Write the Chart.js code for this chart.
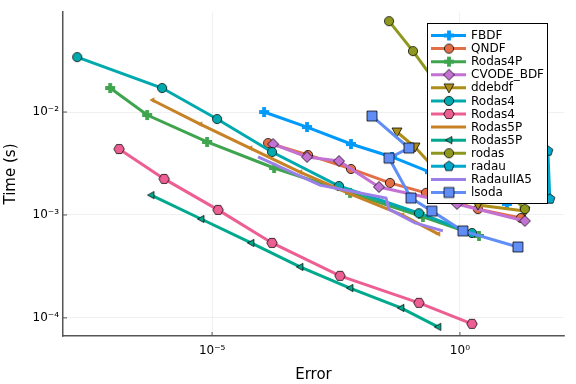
<!DOCTYPE html>
<html>
<head>
<meta charset="utf-8">
<script src="https://cdn.jsdelivr.net/npm/chart.js@4"></script>
<style>
  html, body { margin: 0; padding: 0; background: #fff; }
  #wrap { width: 576px; height: 384px; }
</style>
</head>
<body>
<div id="wrap"><canvas id="chart" width="576" height="384"></canvas></div>
<script>
// tick positions
const xTicks = [1e-5, 1];
const yTicks = [1e-4, 1e-3, 1e-2];

const names = ['FBDF', 'QNDF', 'Rodas4P', 'CVODE_BDF', 'ddebdf', 'Rodas4', 'Rodas4',
               'Rodas5P', 'Rodas5P', 'rodas', 'radau', 'RadauIIA5', 'lsoda'];

// error / time per solver
const fbdfErr = [1.12e-4, 8.22e-4, 6.34e-3, 4.26e-2, 0.248, 8.87];
const fbdfTime = [1.0e-2, 7.15e-3, 4.89e-3, 3.66e-3, 2.61e-3, 1.28e-3];
const qndfErr = [1.35e-4, 8.61e-4, 6.34e-3, 3.88e-2, 0.206, 2.31, 17.0];
const qndfTime = [5.0e-3, 3.83e-3, 2.80e-3, 2.05e-3, 1.64e-3, 1.14e-3, 9.35e-4];
const rodas4pErr = [8.79e-8, 4.90e-7, 7.93e-6, 1.78e-4, 6.06e-3, 0.179, 2.42];
const rodas4pTime = [1.71e-2, 9.35e-3, 5.12e-3, 2.86e-3, 1.64e-3, 9.57e-4, 6.25e-4];
const cvodeErr = [1.70e-4, 8.22e-4, 3.63e-3, 2.33e-2, 0.871, 20.4];
const cvodeTime = [4.89e-3, 3.66e-3, 3.34e-3, 1.87e-3, 1.28e-3, 8.75e-4];
const ddebdfErr = [5.37e-2, 0.124, 0.547, 2.31, 20.4];
const ddebdfTime = [6.40e-3, 4.57e-3, 2.09e-3, 1.25e-3, 1.09e-3];
const rodas4aErr = [1.90e-8, 9.8e-7, 1.26e-5, 1.62e-4, 3.63e-3, 0.149, 1.75];
const rodas4aTime = [3.42e-2, 1.71e-2, 8.55e-3, 4.09e-3, 1.91e-3, 1.04e-3, 6.68e-4];
const rodas4bErr = [1.33e-7, 1.08e-6, 1.32e-5, 1.62e-4, 3.81e-3, 0.149, 1.75];
const rodas4bTime = [4.37e-3, 2.24e-3, 1.12e-3, 5.35e-4, 2.56e-4, 1.40e-4, 8.75e-5];
const rodas5paErr = [6.17e-7, 5.73e-6, 5.83e-5, 5.95e-4, 6.06e-3, 6.77e-2, 0.360];
const rodas5paTime = [1.31e-2, 7.64e-3, 4.47e-3, 2.61e-3, 1.60e-3, 1.0e-3, 6.55e-4];
const rodas5pbErr = [5.89e-7, 6.0e-6, 6.11e-5, 5.95e-4, 6.06e-3, 6.46e-2, 0.360];
const rodas5pbTime = [1.56e-3, 9.14e-4, 5.35e-4, 3.13e-4, 1.95e-4, 1.25e-4, 8.18e-5];
const rodasErr = [3.71e-2, 0.113, 0.499, 2.53, 8.07, 20.4];
const rodasTime = [7.64e-2, 3.91e-2, 1.46e-2, 4.28e-3, 1.75e-3, 1.14e-3];
const radauErr = [16.2, 59.5, 65.2];
const radauTime = [3.2e-2, 4.18e-3, 1.43e-3];
const radauIIA5Err = [8.45e-5, 1.50e-3, 3.22e-2, 3.71e-2, 0.124, 0.454];
const radauIIA5Time = [3.66e-3, 1.95e-3, 1.46e-3, 1.14e-3, 8.36e-4, 7.0e-4];
const lsodaErr = [1.68e-2, 9.38e-2, 3.71e-2, 0.103, 0.272, 1.15, 14.8];
const lsodaTime = [9.14e-3, 4.47e-3, 3.57e-3, 1.46e-3, 1.09e-3, 7.0e-4, 4.89e-4];

const errs = [fbdfErr, qndfErr, rodas4pErr, cvodeErr, ddebdfErr, rodas4aErr, rodas4bErr,
              rodas5paErr, rodas5pbErr, rodasErr, radauErr, radauIIA5Err, lsodaErr];
const times = [fbdfTime, qndfTime, rodas4pTime, cvodeTime, ddebdfTime, rodas4aTime, rodas4bTime,
               rodas5paTime, rodas5pbTime, rodasTime, radauTime, radauIIA5Time, lsodaTime];

// styles
const colors = ['#009AFA', '#E36F47', '#3EA44E', '#C371D2', '#AC8E18', '#00A9AD', '#ED5E93',
                '#C68225', '#00A98D', '#8E971E', '#00A8CB', '#9B7FE9', '#618DF6'];
const shapes = ['cross', 'circle', 'cross', 'diamond', 'dtri', 'circle', 'hex',
                'ltriS', 'ltri', 'circle', 'pent', 'none', 'square'];

function poly(g, m, r, n, start) {
    for (let k = 0; k < n; k++) {
        let a = start + k * 2 * Math.PI / n;
        let px = m + r * Math.cos(a), py = m + r * Math.sin(a);
        if (k === 0) g.moveTo(px, py); else g.lineTo(px, py);
    }
}

function makeMarker(shape, color) {
    if (shape === 'none') return null;
    let r = 5;
    if (shape === 'circle') r = 4.6;
    if (shape === 'ltri') r = 3.6;
    if (shape === 'ltriS') r = 2.8;
    const s = Math.ceil(r * 2 + 4);
    const c = document.createElement('canvas');
    c.width = s; c.height = s;
    const g = c.getContext('2d');
    const m = s / 2;
    g.beginPath();
    if (shape === 'circle') g.arc(m, m, r, 0, Math.PI * 2);
    else if (shape === 'square') g.rect(m - r, m - r, 2 * r, 2 * r);
    else if (shape === 'diamond') { g.moveTo(m, m - r * 1.1); g.lineTo(m + r * 1.1, m); g.lineTo(m, m + r * 1.1); g.lineTo(m - r * 1.1, m); }
    else if (shape === 'dtri') { g.moveTo(m - r, m - r * 0.8); g.lineTo(m + r, m - r * 0.8); g.lineTo(m, m + r); }
    else if (shape === 'ltri' || shape === 'ltriS') { g.moveTo(m - r, m); g.lineTo(m + r * 0.8, m - r); g.lineTo(m + r * 0.8, m + r); }
    else if (shape === 'pent') poly(g, m, r * 1.05, 5, -Math.PI / 2);
    else if (shape === 'hex') poly(g, m, r * 1.05, 6, 0);
    else if (shape === 'cross') {
        const w = r * 0.38;
        g.moveTo(m - w, m - r); g.lineTo(m + w, m - r); g.lineTo(m + w, m - w); g.lineTo(m + r, m - w);
        g.lineTo(m + r, m + w); g.lineTo(m + w, m + w); g.lineTo(m + w, m + r); g.lineTo(m - w, m + r);
        g.lineTo(m - w, m + w); g.lineTo(m - r, m + w); g.lineTo(m - r, m - w); g.lineTo(m - w, m - w);
    }
    g.closePath();
    g.fillStyle = color;
    g.fill();
    if (shape !== 'cross' && shape !== 'ltriS') {
        g.lineWidth = 0.9;
        g.strokeStyle = 'rgba(0,0,0,0.85)';
        g.stroke();
    }
    return c;
}

const markers = shapes.map((s, i) => makeMarker(s, colors[i]));

const sup = { '-': '\u207B', '0': '\u2070', '1': '\u00B9', '2': '\u00B2', '3': '\u00B3', '4': '\u2074',
              '5': '\u2075', '6': '\u2076', '7': '\u2077', '8': '\u2078', '9': '\u2079' };
function powLabel(v) {
    let e = String(Math.round(Math.log10(v)));
    return '10' + e.split('').map(ch => sup[ch]).join('');
}

let datasets = names.map(function (name, i) {
    return {
        label: name,
        data: errs[i].map((e, j) => ({ x: e, y: times[i][j] })),
        showLine: true,
        borderColor: colors[i],
        backgroundColor: colors[i],
        borderWidth: 3,
        pointStyle: markers[i] || 'circle',
        pointRadius: markers[i] ? 4 : 0,
        pointHoverRadius: markers[i] ? 4 : 0,
        order: names.length - i
    };
});

// legend drawn inside the plot + inward ticks
const extras = {
    id: 'extras',
    beforeDatasetsDraw(chart) {
        const ctx = chart.ctx;
        const a = chart.chartArea;
        ctx.save();
        ctx.strokeStyle = '#555';
        ctx.lineWidth = 1;
        chart.scales.x.ticks.forEach(t => {
            let px = chart.scales.x.getPixelForValue(t.value);
            ctx.beginPath(); ctx.moveTo(px, a.bottom); ctx.lineTo(px, a.bottom - 4); ctx.stroke();
        });
        chart.scales.y.ticks.forEach(t => {
            let py = chart.scales.y.getPixelForValue(t.value);
            ctx.beginPath(); ctx.moveTo(a.left, py); ctx.lineTo(a.left + 4, py); ctx.stroke();
        });
        ctx.restore();
    },
    afterDatasetsDraw(chart) {
        const ctx = chart.ctx;
        const bx = 427, by = 23, bw = 120, bh = 180;
        ctx.save();
        ctx.fillStyle = '#fff';
        ctx.fillRect(bx, by, bw, bh);
        ctx.strokeStyle = '#000';
        ctx.lineWidth = 1;
        ctx.strokeRect(bx + 0.5, by + 0.5, bw, bh);
        ctx.font = '12px "DejaVu Sans"';
        ctx.textBaseline = 'middle';
        names.forEach(function (name, i) {
            let y = 35.5 + i * 13.08;
            ctx.strokeStyle = colors[i];
            ctx.lineWidth = 3;
            ctx.beginPath(); ctx.moveTo(431, y); ctx.lineTo(466, y); ctx.stroke();
            if (markers[i] && shapes[i] !== 'ltriS') {
                let m = markers[i];
                ctx.drawImage(m, 449 - m.width / 2, y - m.height / 2);
            }
            ctx.fillStyle = '#000';
            ctx.fillText(name, 471, y + 0.5);
        });
        ctx.restore();
    }
};

Chart.defaults.font.family = '"DejaVu Sans", sans-serif';
Chart.defaults.color = '#000';

new Chart(document.getElementById('chart'), {
    type: 'scatter',
    data: { datasets: datasets },
    options: {
        responsive: false,
        animation: false,
        layout: { padding: { left: 0, right: 12, top: 12, bottom: 0 } },
        plugins: { legend: { display: false }, tooltip: { enabled: false } },
        scales: {
            x: {
                type: 'logarithmic',
                min: Math.pow(10, -8.008),
                max: Math.pow(10, 2.1),
                afterBuildTicks: ax => { ax.ticks = xTicks.map(v => ({ value: v })); },
                afterFit: ax => { ax.height = 48; },
                ticks: { callback: v => powLabel(v), font: { size: 12 }, padding: 8, maxRotation: 0, autoSkip: false },
                grid: { color: 'rgba(0,0,0,0.1)', lineWidth: 0.6, drawTicks: false },
                border: { display: true, color: '#555', width: 1.5 },
                title: { display: true, text: 'Error', font: { size: 15 }, padding: { top: 1, bottom: 0 } }
            },
            y: {
                type: 'logarithmic',
                min: Math.pow(10, -4.176),
                max: Math.pow(10, -1.028),
                afterBuildTicks: ax => { ax.ticks = yTicks.map(v => ({ value: v })); },
                afterFit: ax => { ax.width = 63; },
                ticks: { callback: v => powLabel(v), font: { size: 12 }, padding: 4, autoSkip: false },
                grid: { color: 'rgba(0,0,0,0.1)', lineWidth: 0.6, drawTicks: false },
                border: { display: true, color: '#555', width: 1.5 },
                title: { display: true, text: 'Time (s)', font: { size: 15 }, padding: { top: 2, bottom: 0 } }
            }
        }
    },
    plugins: [extras]
});
</script>
</body>
</html>
